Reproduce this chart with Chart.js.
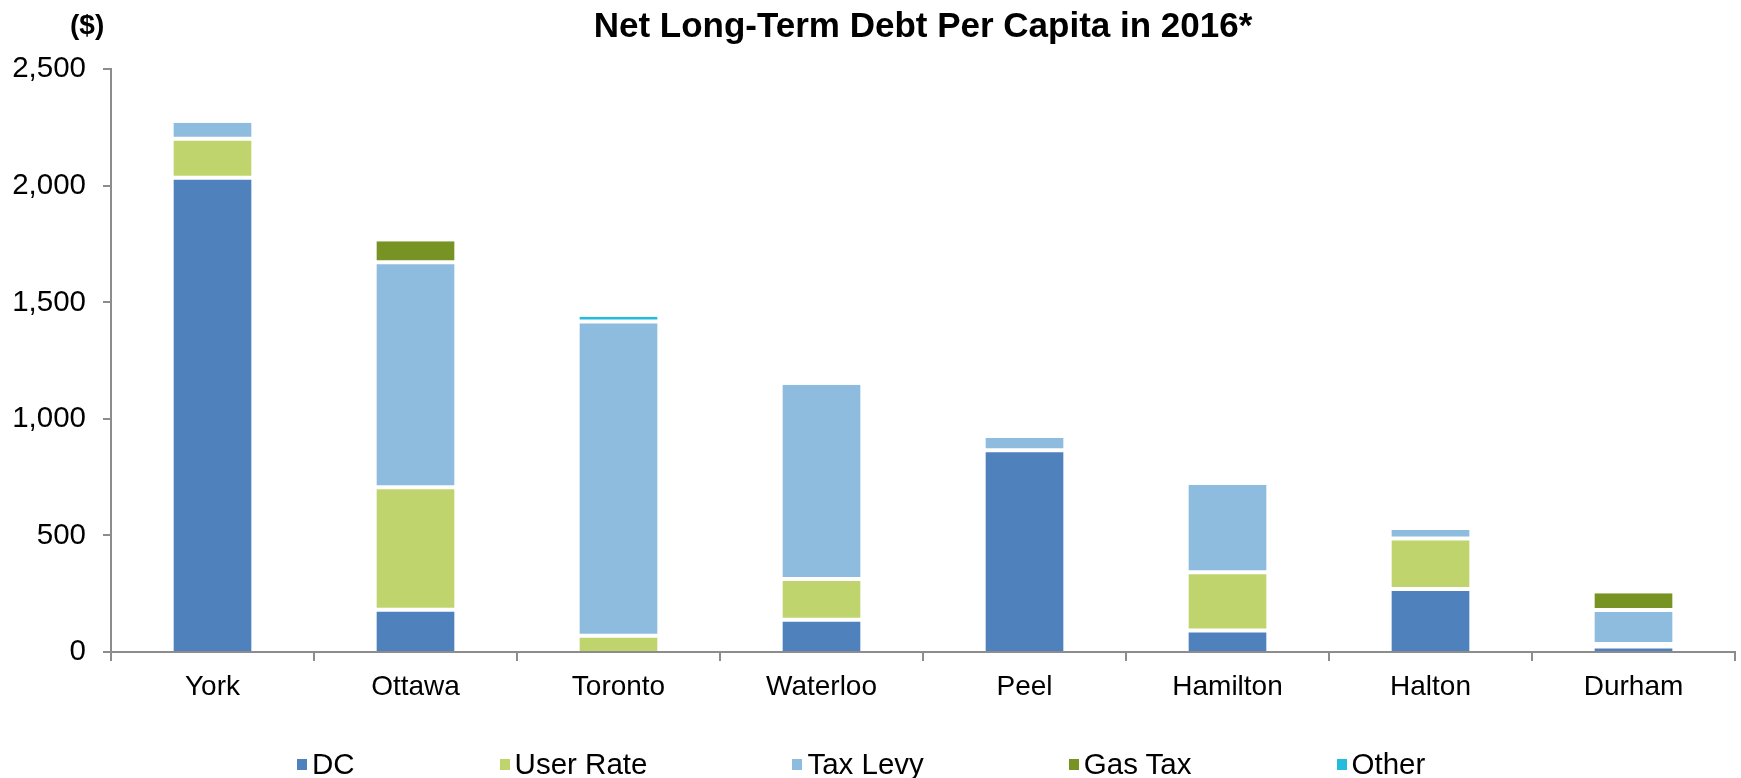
<!DOCTYPE html>
<html>
<head>
<meta charset="utf-8">
<script src="https://cdn.jsdelivr.net/npm/chart.js@4"></script>
<style>
  html, body { margin: 0; padding: 0; background: #fff; }
  #wrap { position: relative; width: 1741px; height: 778px; font-family: "Liberation Sans", Arial, sans-serif; }
  #unit { position: absolute; left: 70px; top: 9px; font-size: 28px; font-weight: bold; line-height: 32px; color: #000; }
  #legend { position: absolute; left: 297px; top: 747px; display: flex; align-items: center; gap: 145px; font-size: 29.5px; line-height: 34px; color: #000; }
  #legend .item { display: flex; align-items: center; }
  #legend .box { width: 10px; height: 11px; margin-right: 5px; }
</style>
</head>
<body>
<div id="wrap">
  <canvas id="debtChart" width="1741" height="778"></canvas>
  <div id="unit">($)</div>
  <div id="legend"></div>
</div>
<script>
const categories = ["York", "Ottawa", "Toronto", "Waterloo", "Peel", "Hamilton", "Halton", "Durham"];
const dcValues = [2035, 181, 0, 138, 866, 92, 270, 24];
const userRateValues = [167, 526, 70, 175, 0, 250, 217, 10];
const taxLevyValues = [69, 965, 1348, 834, 52, 376, 36, 146];
const gasTaxValues = [0, 90, 0, 0, 0, 0, 0, 72];
const otherValues = [0, 0, 20, 0, 0, 0, 0, 0];
const yTicks = [0, 500, 1000, 1500, 2000, 2500];

const axisGray = "#8c8c8c";
const font = "'Liberation Sans', Arial, sans-serif";

// white separators between stacked pieces, none on the stack's top or at the axis
function segmentBorder(c) {
  const i = c.dataIndex, d = c.datasetIndex;
  const all = c.chart.data.datasets;
  const isTop = all.slice(d + 1).every(ds => !ds.data[i]);
  const isBase = all.slice(0, d).every(ds => !ds.data[i]);
  return { top: isTop ? 0 : 2, bottom: isBase ? 0 : 2, left: 0, right: 0 };
}

function series(label, data, color) {
  return {
    label: label,
    data: data,
    backgroundColor: color,
    borderColor: "#ffffff",
    borderWidth: segmentBorder,
    borderSkipped: false,
    barPercentage: 0.385,
    categoryPercentage: 1
  };
}

const datasets = [
  series("DC", dcValues, "#4f81bd"),
  series("User Rate", userRateValues, "#c0d46e"),
  series("Tax Levy", taxLevyValues, "#8dbcde"),
  series("Gas Tax", gasTaxValues, "#779324"),
  series("Other", otherValues, "#24bcdc")
];

const chart = new Chart(document.getElementById("debtChart"), {
  type: "bar",
  data: { labels: categories, datasets: datasets },
  options: {
    responsive: false,
    animation: false,
    layout: { padding: { left: 0, right: 6, top: 0, bottom: 0 } },
    plugins: {
      legend: { display: false },
      tooltip: { enabled: false },
      title: {
        display: true,
        text: "Net Long-Term Debt Per Capita in 2016*",
        fullSize: false,
        color: "#000",
        font: { family: font, size: 35, weight: "bold" },
        padding: { top: 6, bottom: 21.3 }
      }
    },
    scales: {
      x: {
        stacked: true,
        grid: { offset: true, drawOnChartArea: false, drawTicks: true, tickLength: 9, tickColor: axisGray, lineWidth: 2 },
        border: { color: axisGray, width: 2 },
        ticks: { color: "#000", font: { family: font, size: 28 }, padding: 9, maxRotation: 0 },
        afterFit: (scale) => { scale.height = 126; }
      },
      y: {
        stacked: true,
        min: 0,
        max: 2500,
        afterBuildTicks: (scale) => { scale.ticks = yTicks.map(v => ({ value: v })); },
        grid: { drawOnChartArea: false, drawTicks: true, tickLength: 8, tickColor: axisGray, lineWidth: 2 },
        border: { color: axisGray, width: 2 },
        ticks: {
          color: "#000",
          font: { family: font, size: 29.5 },
          padding: 17,
          callback: (v) => Number(v).toLocaleString("en-US")
        },
        afterFit: (scale) => { scale.width = 111; }
      }
    }
  }
});

// legend built from the datasets
const legendEl = document.getElementById("legend");
chart.data.datasets.forEach(ds => {
  const item = document.createElement("div");
  item.className = "item";
  const box = document.createElement("span");
  box.className = "box";
  box.style.background = ds.backgroundColor;
  const txt = document.createElement("span");
  txt.textContent = ds.label;
  item.appendChild(box);
  item.appendChild(txt);
  legendEl.appendChild(item);
});
</script>
</body>
</html>
